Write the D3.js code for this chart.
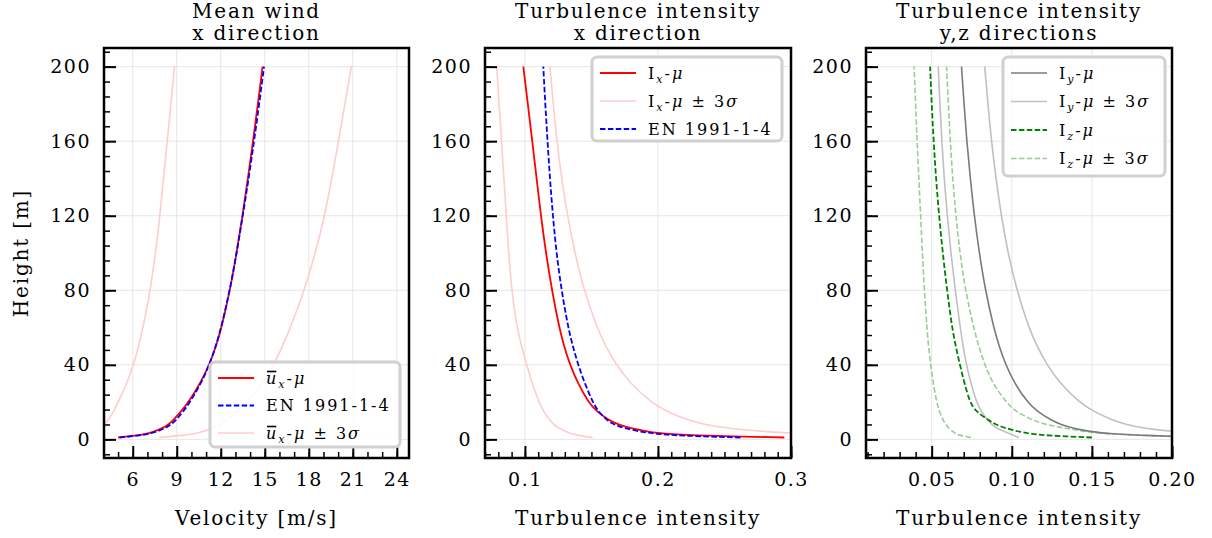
<!DOCTYPE html>
<html><head><meta charset="utf-8">
<script src="https://cdn.jsdelivr.net/npm/d3@7"></script>
<style>
body{margin:0;background:#fff}
svg{display:block}
text{font-family:"DejaVu Serif",serif;fill:#000}
</style>
</head><body>
<svg id="c" width="1212" height="538"></svg>
<script>
// ---------- DATA ----------
const heights = [1,2,3,4,6,8,10,15,20,30,40,50,60,80,100,120,140,160,180,200];

// Panel 1: mean wind velocity [m/s]
const uMean = [5.0,6.2,6.9,7.4,8.05,8.43,8.72,9.3,9.8,10.6,11.22,11.68,12.05,12.63,13.08,13.48,13.85,14.2,14.53,14.85];
const uEN   = [5.1,6.4,7.1,7.6,8.22,8.62,8.9,9.45,9.9,10.65,11.22,11.66,12.03,12.62,13.08,13.5,13.9,14.27,14.62,14.95];
const uLow  = [1.0,1.8,2.4,2.8,3.5,4.05,4.3,4.7,5.0,5.6,6.05,6.4,6.7,7.2,7.55,7.85,8.1,8.35,8.6,8.85];
const uHigh = [7.8,9.2,10.2,10.75,11.45,11.95,12.35,13.15,13.85,14.9,15.62,16.2,16.75,17.7,18.45,19.08,19.58,20.02,20.46,20.9];

// Panel 2: turbulence intensity x
const ixMean = [0.295,0.233,0.206,0.193,0.179,0.170,0.1637,0.1538,0.1476,0.1399,0.1339,0.1294,0.1258,0.1203,0.1158,0.1120,0.1088,0.1055,0.1022,0.0988];
const ixEN   = [0.262,0.215,0.198,0.188,0.174,0.167,0.162,0.155,0.151,0.145,0.140,0.136,0.1325,0.1275,0.1237,0.1210,0.1188,0.1170,0.1153,0.1138];
const ixLow  = [0.151,0.141,0.135,0.131,0.1255,0.1215,0.119,0.114,0.1105,0.1055,0.1013,0.0975,0.094,0.090,0.0878,0.086,0.0842,0.0824,0.0806,0.0788];
const ixHigh = [0.43,0.36,0.31,0.282,0.252,0.235,0.224,0.2062,0.1947,0.1793,0.1686,0.1606,0.1542,0.1444,0.1375,0.1320,0.1275,0.1240,0.1213,0.1188];

// Panel 3: turbulence intensity y, z
const iyMean = [0.236,0.182,0.162,0.150,0.138,0.1306,0.1251,0.1158,0.1097,0.1017,0.0962,0.0921,0.0887,0.0835,0.0797,0.0766,0.0741,0.0719,0.0702,0.0686];
const iyLow  = [0.1045,0.1017,0.0988,0.0958,0.0905,0.0875,0.0852,0.0808,0.0780,0.0745,0.0717,0.0696,0.0678,0.0647,0.0620,0.0597,0.0578,0.0563,0.0551,0.0541];
const iyHigh = [0.335,0.259,0.223,0.2025,0.1819,0.1715,0.1635,0.1509,0.1420,0.1302,0.1219,0.1157,0.1106,0.1031,0.0976,0.0934,0.0901,0.0873,0.0851,0.0831];
const izMean = [0.150,0.123,0.112,0.105,0.096,0.090,0.086,0.0775,0.0738,0.0705,0.0676,0.0650,0.0627,0.0596,0.0569,0.0546,0.0527,0.0512,0.0500,0.0490];
const izLow  = [0.0745,0.0680,0.0652,0.0635,0.0606,0.0588,0.0573,0.0548,0.0531,0.0510,0.0494,0.0480,0.0470,0.0454,0.0442,0.0431,0.0420,0.0409,0.0400,0.0390];
const izHigh = [0.22,0.185,0.160,0.147,0.133,0.121,0.114,0.102,0.0965,0.088,0.0831,0.0793,0.0762,0.0710,0.0676,0.0651,0.0631,0.0616,0.0604,0.0593];

// Tick values
const yMajor = [0,40,80,120,160,200];
const xMajor1 = [6,9,12,15,18,21,24];
const xMajor2 = [0.1,0.2,0.3];
const xMajor3 = [0.05,0.10,0.15,0.20];

const titles = [["Mean wind","x direction"],["Turbulence intensity","x direction"],["Turbulence intensity","y,z directions"]];
const xLabels = ["Velocity [m/s]","Turbulence intensity","Turbulence intensity"];
const yLabel = "Height [m]";

// ---------- STYLE / LAYOUT ----------
const C = {red:"#ff0000", pink:"#ffcccc", blue:"#0000ff", gray:"#7a7a7a", lgray:"#c0c0c0", green:"#008000", lgreen:"#99cc99"};
const DASH = "5.5,2.4";
const plotTop = 48, plotBot = 458;
const panelsLayout = [{l:104,r:409},{l:485,r:791},{l:866,r:1172}];

const svg = d3.select("#c");
const lineFor = (x,y) => d3.line().x(d=>x(d[0])).y(d=>y(d[1])).curve(d3.curveBasis);

function seriesPts(vals){ return vals.map((v,i)=>[v,heights[i]]); }

function drawPanel(idx, xDomain, xMajor, xMinorStep, fmt, series, legend){
  const P = panelsLayout[idx];
  const x = d3.scaleLinear().domain(xDomain).range([P.l,P.r]);
  const y = d3.scaleLinear().domain([-10,210]).range([plotBot,plotTop]);
  const g = svg.append("g");
  const clipId = "clip"+idx;
  svg.append("clipPath").attr("id",clipId).append("rect")
    .attr("x",P.l).attr("y",plotTop).attr("width",P.r-P.l).attr("height",plotBot-plotTop);

  // grid
  g.append("g").selectAll("line").data(xMajor).join("line")
    .attr("x1",d=>x(d)).attr("x2",d=>x(d)).attr("y1",plotTop).attr("y2",plotBot)
    .attr("stroke","#e6e6e6").attr("stroke-width",1);
  g.append("g").selectAll("line").data(yMajor).join("line")
    .attr("y1",d=>y(d)).attr("y2",d=>y(d)).attr("x1",P.l).attr("x2",P.r)
    .attr("stroke","#e6e6e6").attr("stroke-width",1);

  // curves
  const cg = g.append("g").attr("clip-path",`url(#${clipId})`);
  const ln = lineFor(x,y);
  series.forEach(s=>{
    cg.append("path").attr("d",ln(seriesPts(s.vals)))
      .attr("fill","none").attr("stroke",s.color).attr("stroke-width",s.w||1.6)
      .attr("stroke-dasharray",s.dash?DASH:null);
  });

  // ticks
  const xMinor = d3.range(Math.ceil(xDomain[0]/xMinorStep-1e-9), Math.floor(xDomain[1]/xMinorStep+1e-9)+1).map(k=>+(k*xMinorStep).toFixed(6));
  const yMinor = d3.range(-8,211,8);
  const axX = g.append("g").attr("transform",`translate(0,${plotBot})`);
  axX.call(d3.axisBottom(x).tickValues(xMinor).tickSize(-6).tickFormat(""));
  axX.select(".domain").remove();
  axX.selectAll("line").attr("stroke-width",1.5);
  const axX2 = g.append("g").attr("transform",`translate(0,${plotBot})`);
  axX2.call(d3.axisBottom(x).tickValues(xMajor).tickSize(-12).tickPadding(15).tickFormat(fmt));
  axX2.select(".domain").remove();
  axX2.selectAll("line").attr("stroke-width",2);
  axX2.selectAll("text").attr("font-size",19).attr("letter-spacing",1.5).attr("font-family","DejaVu Serif");

  const axY = g.append("g").attr("transform",`translate(${P.l},0)`);
  axY.call(d3.axisLeft(y).tickValues(yMinor).tickSize(-6).tickFormat(""));
  axY.select(".domain").remove();
  axY.selectAll("line").attr("stroke-width",1.5);
  const axY2 = g.append("g").attr("transform",`translate(${P.l},0)`);
  axY2.call(d3.axisLeft(y).tickValues(yMajor).tickSize(-12).tickPadding(13).tickFormat(d3.format("d")));
  axY2.select(".domain").remove();
  axY2.selectAll("line").attr("stroke-width",2);
  axY2.selectAll("text").attr("font-size",19).attr("letter-spacing",1.5).attr("font-family","DejaVu Serif");

  // spines
  g.append("rect").attr("x",P.l).attr("y",plotTop).attr("width",P.r-P.l).attr("height",plotBot-plotTop)
    .attr("fill","none").attr("stroke","#000").attr("stroke-width",2.5);

  // titles
  const cx = (P.l+P.r)/2;
  titles[idx].forEach((t,i)=>{
    g.append("text").attr("x",cx).attr("y",18+i*22).attr("text-anchor","middle")
      .attr("font-size",20).attr("letter-spacing",1.8).text(t);
  });
  g.append("text").attr("x",cx).attr("y",525).attr("text-anchor","middle")
    .attr("font-size",20).attr("letter-spacing",1.8).text(xLabels[idx]);

  // legend
  const L = legend;
  const lg = g.append("g");
  lg.append("rect").attr("x",L.x).attr("y",L.y).attr("width",L.w).attr("height",L.h)
    .attr("rx",5).attr("fill","rgba(255,255,255,0.85)").attr("stroke","#d0d0d0").attr("stroke-width",3);
  L.items.forEach((it,i)=>{
    const yy = L.y + 16 + i*L.dy;
    lg.append("line").attr("x1",L.x+8).attr("x2",L.x+44).attr("y1",yy).attr("y2",yy)
      .attr("stroke",it.color).attr("stroke-width",it.w||1.6).attr("stroke-dasharray",it.dash?DASH:null);
    const tx = lg.append("text").attr("x",L.x+56).attr("y",yy+5.5).attr("font-size",16).attr("letter-spacing",2);
    let over = [];
    let charIdx = 0;
    it.label.forEach(seg=>{
      const ts = tx.append("tspan").text(seg.t);
      if(seg.it) ts.attr("font-style","italic");
      if(seg.sub) ts.attr("font-size",11).attr("dy",4);
      if(seg.after) ts.attr("dy",-4);
      if(seg.over) over.push(charIdx);
      charIdx += seg.t.length;
    });
    const node = tx.node();
    over.forEach(ci=>{
      const e = node.getExtentOfChar(ci);
      lg.append("line").attr("x1",e.x+1).attr("x2",e.x+e.width-2)
        .attr("y1",e.y+3).attr("y2",e.y+3).attr("stroke","#000").attr("stroke-width",1.6);
    });
  });
}

const lblU = [{t:"u",it:true,over:true},{t:"x",it:true,sub:true},{t:"-",after:true},{t:"μ",it:true}];
const lblU3 = [{t:"u",it:true,over:true},{t:"x",it:true,sub:true},{t:"-",after:true},{t:"μ",it:true},{t:" ± 3"},{t:"σ",it:true}];
const mk = (s,sub,pm) => pm ? [{t:s},{t:sub,it:true,sub:true},{t:"-",after:true},{t:"μ",it:true},{t:" ± 3"},{t:"σ",it:true}]
                           : [{t:s},{t:sub,it:true,sub:true},{t:"-",after:true},{t:"μ",it:true}];

drawPanel(0,[4.04,24.83],xMajor1,1,d3.format("d"),
  [{vals:uLow,color:C.pink},{vals:uHigh,color:C.pink},{vals:uMean,color:C.red,w:1.8},{vals:uEN,color:C.blue,dash:true,w:1.8}],
  {x:210,y:362,w:190,h:85,dy:27.5,items:[{color:C.red,w:1.8,label:lblU},{color:C.blue,dash:true,w:1.8,label:[{t:"EN 1991-1-4"}]},{color:C.pink,label:lblU3}]});

drawPanel(1,[0.07,0.30],xMajor2,0.01,d3.format(".1f"),
  [{vals:ixLow,color:C.pink},{vals:ixHigh,color:C.pink},{vals:ixMean,color:C.red,w:1.8},{vals:ixEN,color:C.blue,dash:true,w:1.8}],
  {x:592,y:57,w:190,h:84,dy:28,items:[{color:C.red,w:1.8,label:mk("I","x",false)},{color:C.pink,label:mk("I","x",true)},{color:C.blue,dash:true,w:1.8,label:[{t:"EN 1991-1-4"}]}]});

drawPanel(2,[0.009,0.20],xMajor3,0.01,d3.format(".2f"),
  [{vals:iyLow,color:C.lgray},{vals:iyHigh,color:C.lgray},{vals:izLow,color:C.lgreen,dash:true},{vals:izHigh,color:C.lgreen,dash:true},
   {vals:iyMean,color:C.gray},{vals:izMean,color:C.green,dash:true,w:1.8}],
  {x:1003,y:57,w:162,h:119,dy:28.5,items:[{color:C.gray,label:mk("I","y",false)},{color:C.lgray,label:mk("I","y",true)},{color:C.green,dash:true,w:1.8,label:mk("I","z",false)},{color:C.lgreen,dash:true,label:mk("I","z",true)}]});

// y label
svg.append("text").attr("transform","translate(28,253) rotate(-90)").attr("text-anchor","middle")
  .attr("font-size",20).attr("letter-spacing",1.8).text(yLabel);
</script>
</body></html>
